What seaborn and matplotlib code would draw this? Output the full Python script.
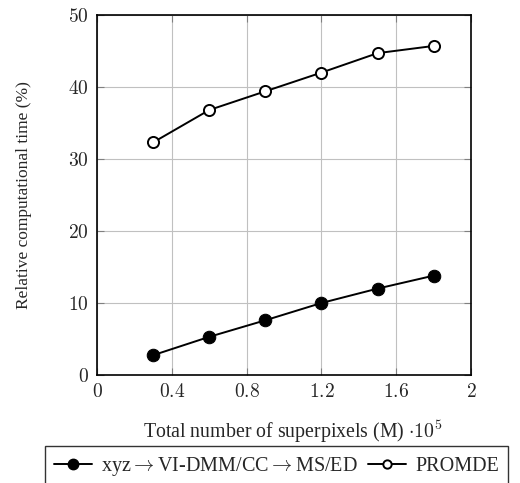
import pandas as pd
import seaborn as sns
import numpy as np
import matplotlib.pyplot as plt
from matplotlib.lines import Line2D

# data
superpixels = [0.3, 0.6, 0.9, 1.2, 1.5, 1.8]
xyz_time = [2.75, 5.3, 7.6, 10.0, 12.0, 13.8]
promde_time = [32.3, 36.8, 39.4, 42.0, 44.7, 45.7]
xyz_label = r"xyz$\rightarrow$VI-DMM/CC$\rightarrow$MS/ED"
promde_label = "PROMDE"
x_ticks = [0, 0.4, 0.8, 1.2, 1.6, 2]
y_ticks = [0, 10, 20, 30, 40, 50]

sns.set_style("white")
plt.rcParams['font.family'] = ['Liberation Serif', 'DejaVu Serif']
plt.rcParams['mathtext.fontset'] = 'cm'

data = pd.DataFrame({
    "x": superpixels * 2,
    "y": xyz_time + promde_time,
    "method": [xyz_label] * 6 + [promde_label] * 6,
})

fig = plt.figure(figsize=(5.2, 4.83), dpi=100)
ax = fig.add_axes([0.1865, 0.2236, 0.7195, 0.7454])

sns.lineplot(data=data[data.method == xyz_label], x="x", y="y", ax=ax,
             color="black", lw=1.4, marker="o", markersize=9,
             markerfacecolor="black", markeredgecolor="black", zorder=3)
sns.lineplot(data=data[data.method == promde_label], x="x", y="y", ax=ax,
             color="black", lw=1.4, marker="o", markersize=8,
             markerfacecolor="white", markeredgecolor="black",
             markeredgewidth=1.4, zorder=3)

ax.set_xlim(0, 2)
ax.set_ylim(0, 50)
ax.set_xticks(x_ticks)
ax.set_yticks(y_ticks)
ax.set_xticklabels(["$%g$" % t for t in x_ticks], fontsize=14)
ax.set_yticklabels(["$%g$" % t for t in y_ticks], fontsize=14)
ax.grid(True, color="#c0c0c0", lw=0.8)
ax.tick_params(direction="in", length=5, color="#808080", top=True, right=True,
               bottom=True, left=True, pad=6)
for s in ax.spines.values():
    s.set_color("black")
    s.set_linewidth(1.2)
ax.set_xlabel("")
ax.set_ylabel("Relative computational time (%)", fontsize=12.5, labelpad=26)

fig.text(0.563, 0.106, r"Total number of superpixels (M) $\cdot 10^5$",
         ha="center", va="center", fontsize=14.3)

handles = [
    Line2D([], [], color="black", lw=1.4, marker="o", markersize=7.5,
           markerfacecolor="black"),
    Line2D([], [], color="black", lw=1.4, marker="o", markersize=6,
           markerfacecolor="white", markeredgewidth=1.4),
]
leg = fig.legend(handles, [xyz_label, promde_label], loc="upper left",
                 bbox_to_anchor=(0.086, 0.077), ncol=2, frameon=True,
                 fancybox=False, edgecolor="black", fontsize=14.5,
                 handlelength=1.9, handletextpad=0.45, columnspacing=0.5,
                 borderpad=0.45, borderaxespad=0)
leg.get_frame().set_linewidth(1.0)

fig.savefig("out.png", dpi=100)
